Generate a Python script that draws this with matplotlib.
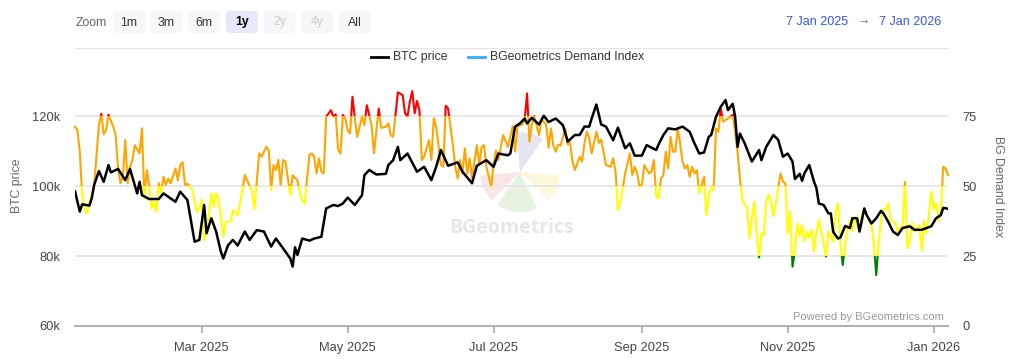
import numpy as np
import pandas as pd
import matplotlib
matplotlib.use('Agg')
import matplotlib.pyplot as plt
import matplotlib.dates as mdates
from matplotlib.patches import Rectangle, FancyBboxPatch, Wedge

plt.rcParams['font.family'] = ['Liberation Sans', 'DejaVu Sans']

# BTC price (k USD), days counted from 7 Jan 2025
price_days = [0, 2, 3, 6, 7, 8, 10, 12, 14, 15, 18, 21, 23, 26, 27, 28, 31, 35, 37, 42,
              44, 47, 50, 52, 54, 55, 57, 59, 61, 62, 64, 66, 68, 71, 73, 76, 79, 82, 84, 87,
              90, 91, 92, 93, 95, 98, 100, 103, 105, 108, 110, 112, 114, 117, 120, 121, 123, 126, 130, 131,
              133, 135, 136, 139, 143, 146, 149, 151, 153, 156, 160, 162, 166, 168, 172, 175, 177, 181, 182, 184,
              186, 188, 189, 191, 194, 196, 198, 201, 204, 206, 209, 211, 213, 215, 216, 218, 220, 222, 225, 227,
              230, 232, 234, 237, 239, 243, 244, 246, 248, 251, 254, 257, 259, 261, 263, 265, 266, 268, 270, 272,
              273, 275, 276, 277, 278, 280, 283, 286, 287, 289, 292, 294, 296, 298, 300, 301, 303, 304, 305, 307,
              309, 310, 311, 313, 315, 316, 317, 319, 320, 322, 324, 325, 327, 328, 330, 331, 333, 335, 337, 338,
              340, 342, 344, 346, 349, 351, 354, 356, 358, 360, 362, 363, 365]
price_k = [98.5, 92.7, 94.8, 94.4, 96.5, 100.3, 104.3, 101.2, 106.0, 103.9, 104.9, 101.7, 104.9, 97.9, 101.2, 97.4, 96.3, 96.3, 97.9, 95.5,
           98.4, 96.0, 84.1, 84.6, 94.6, 86.5, 90.8, 87.0, 81.2, 79.3, 83.1, 84.6, 83.0, 87.0, 84.6, 87.4, 87.0, 82.7, 85.0, 82.2,
           79.3, 77.0, 82.5, 80.3, 85.0, 84.4, 85.0, 85.5, 93.6, 94.6, 94.3, 95.0, 96.7, 94.6, 97.4, 103.1, 104.6, 103.3, 103.5, 106.0,
           107.4, 111.2, 107.4, 109.3, 104.1, 105.5, 101.7, 105.5, 110.3, 105.8, 106.8, 104.1, 100.8, 105.8, 107.4, 105.5, 109.3, 108.8, 109.3, 117.0,
           117.9, 119.3, 117.9, 119.5, 117.6, 120.1, 118.3, 119.3, 117.4, 112.7, 114.6, 114.6, 117.0, 117.0, 119.3, 123.3, 117.6, 117.0, 113.1, 116.7,
           110.8, 112.2, 108.7, 108.7, 111.7, 110.3, 111.9, 114.6, 116.5, 116.2, 117.0, 115.5, 112.2, 109.3, 109.6, 114.1, 114.6, 119.8, 122.7, 124.6,
           121.7, 123.5, 119.8, 111.2, 115.0, 112.2, 107.0, 110.3, 107.4, 111.2, 114.6, 113.2, 108.4, 109.3, 107.0, 102.0, 103.5, 101.5, 103.7, 106.0,
           101.2, 99.4, 95.0, 94.6, 92.2, 92.2, 86.9, 85.0, 85.3, 88.6, 88.0, 90.8, 90.8, 87.0, 93.6, 91.7, 89.3, 90.8, 92.9, 92.2,
           89.8, 87.0, 86.0, 88.0, 88.5, 87.5, 87.5, 88.0, 88.5, 90.8, 91.7, 93.8, 93.5]

# BGeometrics Demand Index
index_days = [0, 1, 2, 3, 4, 5, 6, 8, 10, 11, 12, 13, 14, 16, 17, 18, 19, 20, 21, 22,
              23, 24, 25, 27, 28, 29, 30, 31, 32, 33, 34, 35, 36, 37, 38, 39, 40, 42, 43, 44,
              45, 46, 47, 49, 50, 51, 52, 53, 54, 56, 57, 58, 59, 60, 62, 63, 65, 66, 68, 69,
              71, 72, 74, 75, 77, 78, 80, 81, 82, 83, 84, 85, 86, 87, 88, 90, 91, 93, 94, 95,
              96, 98, 99, 100, 101, 102, 103, 104, 105, 107, 108, 109, 110, 111, 112, 113, 114, 115, 116, 117,
              118, 120, 121, 122, 124, 125, 127, 128, 130, 131, 132, 133, 134, 135, 137, 138, 139, 140, 141, 142,
              143, 144, 145, 146, 148, 149, 150, 151, 153, 154, 155, 156, 158, 159, 160, 161, 162, 163, 164, 165,
              166, 168, 169, 170, 171, 172, 174, 175, 176, 177, 179, 180, 181, 183, 184, 185, 187, 188, 189, 190,
              191, 192, 194, 195, 197, 198, 199, 200, 201, 202, 203, 205, 206, 207, 208, 209, 211, 212, 213, 214,
              215, 216, 218, 219, 220, 222, 224, 225, 226, 227, 228, 229, 230, 232, 233, 234, 235, 236, 237, 238,
              240, 241, 242, 243, 244, 245, 246, 247, 248, 249, 250, 251, 252, 253, 254, 255, 256, 257, 258, 259,
              260, 261, 262, 263, 264, 265, 266, 267, 268, 269, 270, 271, 272, 273, 275, 276, 277, 278, 279, 281,
              282, 283, 284, 285, 286, 287, 288, 289, 290, 291, 292, 293, 295, 296, 297, 298, 299, 300, 301, 302,
              303, 304, 305, 306, 307, 308, 309, 310, 311, 312, 314, 315, 317, 318, 319, 320, 321, 322, 323, 324,
              325, 326, 327, 328, 329, 330, 332, 333, 334, 335, 336, 337, 338, 339, 340, 341, 343, 344, 345, 346,
              347, 348, 349, 350, 351, 353, 354, 355, 356, 357, 358, 359, 360, 361, 362, 363, 364, 365]
index_vals = [71.2, 70.0, 62.3, 46.8, 42.0, 40.2, 43.5, 50.4, 71.8, 75.8, 68.5, 70.0, 75.5, 71.2, 68.2, 56.3, 51.0, 53.5, 66.4, 51.0,
              56.9, 59.3, 64.6, 61.7, 70.6, 45.6, 55.7, 50.4, 42.0, 44.4, 40.8, 51.0, 47.6, 53.3, 50.4, 52.7, 51.0, 56.3, 52.0, 57.5,
              58.5, 50.4, 50.8, 48.6, 44.4, 40.8, 42.0, 45.0, 30.7, 39.6, 47.4, 42.6, 47.4, 45.6, 31.9, 37.3, 37.3, 41.4, 39.6, 43.8,
              53.9, 52.0, 48.2, 41.7, 61.7, 60.5, 64.0, 62.7, 48.6, 57.5, 55.7, 59.3, 50.4, 59.3, 58.7, 46.8, 53.9, 52.0, 47.6, 44.6,
              43.8, 61.1, 61.7, 60.5, 54.5, 59.9, 55.1, 54.5, 74.8, 77.1, 74.8, 75.6, 62.9, 61.7, 75.4, 74.2, 70.0, 68.8, 81.9, 74.2,
              67.6, 74.8, 71.8, 78.9, 71.8, 61.7, 77.7, 70.8, 71.2, 72.4, 68.2, 67.6, 75.4, 83.5, 82.5, 76.0, 74.8, 80.2, 83.9, 76.0,
              80.4, 77.1, 59.3, 60.5, 66.4, 59.3, 74.2, 71.2, 57.5, 56.9, 78.7, 77.7, 64.6, 56.9, 52.7, 59.3, 54.5, 63.5, 54.5, 59.9,
              52.7, 64.6, 57.7, 64.0, 64.6, 56.9, 49.8, 57.7, 62.7, 59.3, 68.2, 66.0, 64.0, 71.4, 62.3, 71.4, 72.0, 73.8, 83.1, 65.8,
              72.0, 75.0, 68.2, 73.8, 72.0, 63.7, 70.6, 64.4, 62.3, 64.8, 64.4, 70.6, 64.8, 65.4, 58.7, 55.7, 60.5, 58.7, 65.4, 69.4,
              67.0, 61.7, 69.4, 65.4, 66.6, 57.5, 56.9, 59.9, 55.1, 41.4, 44.4, 49.2, 54.5, 61.7, 53.9, 56.9, 54.5, 49.8, 50.4, 57.5,
              54.5, 55.1, 59.3, 46.2, 45.6, 52.7, 53.9, 62.3, 56.3, 67.6, 62.3, 62.3, 70.6, 65.2, 58.7, 56.3, 57.5, 53.3, 56.9, 54.5,
              55.7, 47.4, 50.4, 53.3, 39.6, 46.8, 49.2, 48.6, 70.6, 69.4, 77.7, 73.0, 73.6, 74.2, 75.4, 69.4, 62.3, 52.7, 45.0, 42.0,
              31.3, 38.5, 44.4, 33.6, 24.5, 33.1, 32.5, 44.6, 47.0, 44.0, 39.3, 44.0, 54.5, 51.6, 51.0, 33.1, 40.8, 21.2, 27.1, 36.7,
              32.0, 36.1, 30.2, 33.8, 31.5, 34.4, 26.5, 33.3, 38.0, 33.8, 24.8, 33.8, 30.2, 40.5, 43.8, 29.6, 21.8, 29.0, 35.0, 37.5,
              33.8, 39.2, 36.1, 33.8, 39.9, 41.7, 37.5, 35.7, 29.6, 18.2, 29.6, 38.0, 41.7, 41.7, 43.8, 38.0, 36.7, 33.3, 35.0, 36.1,
              51.5, 27.7, 30.2, 36.7, 33.8, 36.1, 26.9, 37.5, 33.3, 39.9, 48.0, 41.7, 43.8, 37.5, 41.0, 56.9, 56.3, 53.9]

# colour bands of the demand index
zones = [(-100, 25, '#008000'), (25, 50, '#ffff00'), (50, 75, '#ffa500'), (75, 200, '#ff0000')]

start = pd.Timestamp('2025-01-07')
end = pd.Timestamp('2026-01-07')
price_dates = start + pd.to_timedelta(price_days, unit='D')
index_dates = start + pd.to_timedelta(index_days, unit='D')

fig = plt.figure(figsize=(10.24, 3.61), dpi=100)

# decoration layer in pixel coordinates (header, legend, watermark)
deco = fig.add_axes([0, 0, 1, 1], zorder=-1)
deco.set_xlim(0, 1024)
deco.set_ylim(361, 0)
deco.axis('off')

ax = fig.add_axes([75 / 1024, 35 / 361, 873 / 1024, 240 / 361])
ax2 = ax.twinx()
ax.set_zorder(2)
ax2.set_zorder(1)
ax.patch.set_visible(False)
ax2.patch.set_visible(False)

# demand index, drawn once per colour band and clipped to it
x0 = mdates.date2num(start - pd.Timedelta(days=10))
x1 = mdates.date2num(end + pd.Timedelta(days=10))
for lo, hi, c in zones:
    line, = ax2.plot(index_dates, index_vals, color=c, lw=1.5, solid_joinstyle='round')
    clip = Rectangle((x0, lo), x1 - x0, hi - lo, transform=ax2.transData)
    line.set_clip_path(clip)

ax.plot(price_dates, np.array(price_k) * 1000, color='black', lw=1.8, solid_joinstyle='round')

ax.set_xlim(start, end)
ax.set_ylim(60000, 128600)
ax2.set_ylim(0, 85.75)

ax.set_yticks([60000, 80000, 100000, 120000])
ax.set_yticklabels(['60k', '80k', '100k', '120k'])
ax2.set_yticks([0, 25, 50, 75])
ax2.yaxis.grid(True, color='#e6e6e6', lw=1.3)
ax2.set_axisbelow(True)

ax.xaxis.set_major_locator(mdates.MonthLocator(bymonth=[1, 3, 5, 7, 9, 11]))
ax.xaxis.set_major_formatter(mdates.DateFormatter('%b %Y'))

for a in (ax, ax2):
    for s in ('top', 'left', 'right', 'bottom'):
        a.spines[s].set_visible(False)
ax.spines['bottom'].set_visible(True)
ax.spines['bottom'].set_color('#aaaaaa')
ax.spines['bottom'].set_linewidth(1.3)

ax.tick_params(axis='y', length=0, pad=10.5, labelsize=9.3, labelcolor='#444444')
ax2.tick_params(axis='y', length=0, pad=10.5, labelsize=9.3, labelcolor='#444444')
ax.tick_params(axis='x', length=5, width=1.2, color='#aaaaaa', pad=6.5, labelsize=9.3, labelcolor='#444444')

# axis titles
deco.text(17, 186, 'BTC price', rotation=90, ha='center', va='center', fontsize=8.8, color='#666666')
deco.text(998, 186, 'BG Demand Index', rotation=270, ha='center', va='center', fontsize=8.8, color='#666666')

# range selector buttons
deco.text(76, 22.5, 'Zoom', ha='left', va='center', fontsize=8.8, color='#666666')
btn_labels = ['1m', '3m', '6m', '1y', '2y', '4y', 'All']
for i, lab in enumerate(btn_labels):
    bx = 113 + i * 37.6
    fc = '#e6e9fb' if lab == '1y' else '#f7f7f7'
    tc = '#000000' if lab == '1y' else ('#cccccc' if lab in ('2y', '4y') else '#333333')
    deco.add_patch(FancyBboxPatch((bx, 11), 32, 22, boxstyle='round,pad=0,rounding_size=3',
                                  fc=fc, ec='none'))
    deco.text(bx + 16, 22.5, lab, ha='center', va='center', fontsize=8.8, color=tc,
              weight='bold' if lab == '1y' else 'normal')

# date range
deco.text(786, 22, '7 Jan 2025', ha='left', va='center', fontsize=9, color='#3357f5')
deco.text(864, 22, '\u2192', ha='center', va='center', fontsize=9, color='#666666')
deco.text(879, 22, '7 Jan 2026', ha='left', va='center', fontsize=9, color='#3357f5')
deco.plot([75, 948], [47.5, 47.5], color='#e6e6e6', lw=1)

# legend
deco.plot([371, 388], [57, 57], color='black', lw=2)
deco.text(393, 57, 'BTC price', ha='left', va='center', fontsize=8.8, color='#333333')
deco.plot([468, 485], [57, 57], color='#2caffe', lw=2)
deco.text(490, 57, 'BGeometrics Demand Index', ha='left', va='center', fontsize=8.8, color='#333333')

# watermark logo and text
logo_c = (520, 172)
deco.add_patch(Wedge(logo_c, 40, 265, 305, fc='#e3e5ef', ec='none'))
deco.add_patch(Wedge(logo_c, 40, 135, 175, fc='#fbe6e6', ec='none'))
deco.add_patch(Wedge(logo_c, 40, 5, 45, fc='#fbf8dc', ec='none'))
deco.add_patch(Wedge(logo_c, 40, 65, 125, fc='#e5f3df', ec='none'))
deco.text(512, 228, 'BGeometrics', ha='center', va='center', fontsize=14, weight='bold',
          family='Open Sans', color='#e6e6e6')
deco.text(944, 317, 'Powered by BGeometrics.com', ha='right', va='center', fontsize=8, color='#999999')

fig.savefig('out.png', dpi=100, facecolor='white')
